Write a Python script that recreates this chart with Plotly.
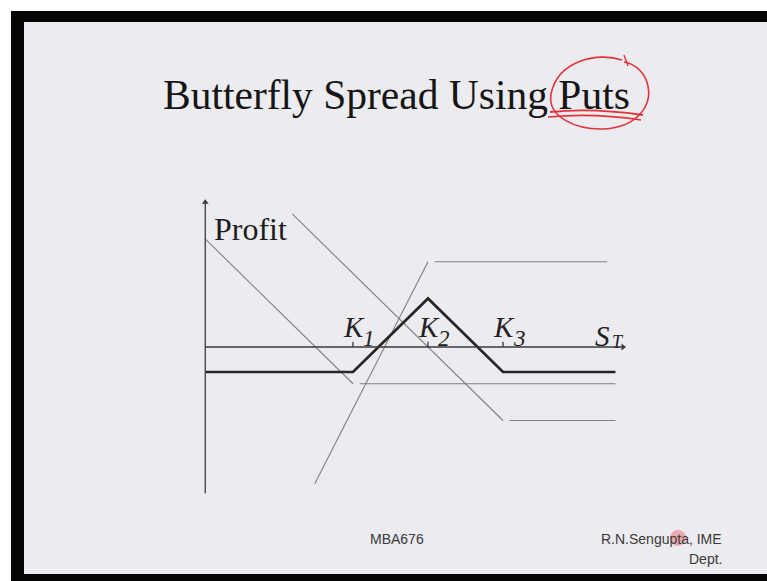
import plotly.graph_objects as go

# ---- payoff data (units of the underlying price) ----
strike_names = ["K", "K", "K"]
strike_subs = ["1", "2", "3"]
strikes = [40.0, 50.0, 60.0]
put_premiums = [5.0, 5.8, 10.0]
positions = [1, -2, 1]          # long K1 put, short two K2 puts, long K3 put
leg_starts = [20.3, 34.9, 31.9]  # where each leg's sloped part begins
leg_ends = [75.0, 73.9, 75.0]    # where each leg's flat part ends
flat_gap = 0.9                   # small break between a leg's slope and its flat part

axis_origin_s = 20.3
axis_end_s = 76.0
profit_axis_top = 19.7
profit_axis_bottom = -19.9
spread_end_s = 75.0

# ---- page geometry (pixels) ----
W, H = 767, 581
PX_PER_S = 7.5
PX_PER_P = 7.35
ORIGIN_X, ORIGIN_Y = 428 - 50 * PX_PER_S, 347   # pixel position of S=0, P=0

x_range = [(0 - ORIGIN_X) / PX_PER_S, (W - ORIGIN_X) / PX_PER_S]
y_range = [-(H - ORIGIN_Y) / PX_PER_P, ORIGIN_Y / PX_PER_P]


def px(x, y):
    """pixel -> paper coordinates"""
    return x / W, 1 - y / H


def put_profit(s, k, prem, pos):
    return pos * (max(k - s, 0.0) - prem)


fig = go.Figure()
thin = dict(color="#808080", width=1.1)
axis_line = dict(color="#3a3a3a", width=1.3)

# individual legs (thin grey)
for k, prem, pos, s0, s1 in zip(strikes, put_premiums, positions, leg_starts, leg_ends):
    fig.add_trace(go.Scatter(
        x=[s0, k], y=[put_profit(s0, k, prem, pos), put_profit(k, k, prem, pos)],
        mode="lines", line=thin, hoverinfo="skip"))
    fig.add_trace(go.Scatter(
        x=[k + flat_gap, s1], y=[put_profit(k + flat_gap, k, prem, pos), put_profit(s1, k, prem, pos)],
        mode="lines", line=thin, hoverinfo="skip"))

# butterfly spread profit (bold)
spread_s = [axis_origin_s] + strikes + [spread_end_s]
spread_p = [sum(put_profit(s, k, pr, po) for k, pr, po in zip(strikes, put_premiums, positions))
            for s in spread_s]
fig.add_trace(go.Scatter(x=spread_s, y=spread_p, mode="lines",
                         line=dict(color="#262626", width=2.7), hoverinfo="skip"))

# axes with arrow heads
fig.add_trace(go.Scatter(x=[axis_origin_s, axis_origin_s], y=[profit_axis_bottom, profit_axis_top],
                         mode="lines", line=axis_line, hoverinfo="skip"))
fig.add_trace(go.Scatter(x=[axis_origin_s, axis_end_s], y=[0, 0],
                         mode="lines", line=axis_line, hoverinfo="skip"))
fig.add_trace(go.Scatter(x=[axis_origin_s], y=[profit_axis_top], mode="markers",
                         marker=dict(symbol="triangle-up", size=6, color="#3a3a3a"), hoverinfo="skip"))
fig.add_trace(go.Scatter(x=[axis_end_s], y=[0], mode="markers",
                         marker=dict(symbol="triangle-right", size=6, color="#3a3a3a"), hoverinfo="skip"))
# strike ticks
for k in strikes:
    fig.add_trace(go.Scatter(x=[k, k], y=[0, 0.7], mode="lines", line=axis_line, hoverinfo="skip"))

annotations = []
serif = "Liberation Serif, Times New Roman, serif"
sans = "Liberation Sans, Arial, sans-serif"
ink = "#222222"


def label(x, y, text, size, italic=True, anchor="left"):
    annotations.append(dict(x=x, y=y, xref="x", yref="y", xanchor=anchor, yanchor="middle",
                            text=f"<i>{text}</i>" if italic else text, showarrow=False,
                            font=dict(family=serif, size=size, color=ink)))


# strike labels: letter plus a separate, slightly lower subscript
for name, sub, k in zip(strike_names, strike_subs, strikes):
    label(k - 12 / PX_PER_S, (347 - 327) / PX_PER_P, name, 29)
    label(k + 7.5 / PX_PER_S, (347 - 338) / PX_PER_P, sub, 23)
label(72.0, (347 - 336) / PX_PER_P, "S", 29)
label(74.2, (347 - 342) / PX_PER_P, "T", 18)
annotations.append(dict(x=axis_origin_s + 0.85, y=profit_axis_top - 0.9, xref="x", yref="y",
                        xanchor="left", yanchor="top", text="Profit", showarrow=False,
                        font=dict(family=serif, size=32, color="#1c1c1c")))

# slide title and footer
tx, ty = px(396, 95)
annotations.append(dict(x=tx, y=ty, xref="paper", yref="paper", xanchor="center", yanchor="middle",
                        text="Butterfly Spread Using Puts", showarrow=False,
                        font=dict(family=serif, size=41.5, color="#151515")))
foot = dict(family=sans, size=14, color="#3a3a3a")
fx, fy = px(397, 539)
annotations.append(dict(x=fx, y=fy, xref="paper", yref="paper", xanchor="center", yanchor="middle",
                        text="MBA676", showarrow=False, font=foot))
fx, fy = px(724, 539)
annotations.append(dict(x=fx, y=fy, xref="paper", yref="paper", xanchor="right", yanchor="middle",
                        text="R.N.Sengupta, IME", showarrow=False, font=foot))
fx, fy = px(724, 559)
annotations.append(dict(x=fx, y=fy, xref="paper", yref="paper", xanchor="right", yanchor="middle",
                        text="Dept.", showarrow=False, font=foot))


def rect(x0, y0, x1, y1, color):
    a, b = px(x0, y0)
    c, d = px(x1, y1)
    return dict(type="rect", xref="paper", yref="paper", x0=a, y0=d, x1=c, y1=b,
                fillcolor=color, line=dict(width=0), layer="below")


def path(points_cmds, color, width):
    parts = []
    for cmd, pts in points_cmds:
        coords = " ".join(f"{px(x, y)[0]:.5f},{px(x, y)[1]:.5f}" for x, y in pts)
        parts.append(f"{cmd} {coords}")
    return dict(type="path", xref="paper", yref="paper", path=" ".join(parts),
                line=dict(color=color, width=width), layer="above")


red = "#e0343a"
shapes = [
    rect(11, 11, W, H, "#050505"),
    rect(24, 22, W, 574, "#ecebf0"),
    # hand-drawn circle around "Puts"
    path([("M", [(622, 60)]),
          ("C", [(598, 52), (558, 60), (551, 94)]),
          ("C", [(547, 118), (578, 130), (604, 129)]),
          ("C", [(637, 127), (652, 106), (648, 86)]),
          ("C", [(645, 72), (635, 64), (624, 62)])], red, 1.6),
    path([("M", [(624, 55)]), ("L", [(628, 66)])], red, 1.4),
    # underline
    path([("M", [(550, 112)]), ("C", [(580, 109), (615, 111), (643, 115)])], red, 1.8),
    path([("M", [(548, 117)]), ("C", [(580, 114), (615, 116), (641, 120)])], red, 1.6),
    # pointer dot
    dict(type="circle", xref="paper", yref="paper",
         x0=px(670, 0)[0], x1=px(686, 0)[0], y0=px(0, 546)[1], y1=px(0, 530)[1],
         fillcolor="rgba(230,90,90,0.45)", line=dict(width=0), layer="above"),
]

fig.update_layout(
    width=W, height=H, margin=dict(l=0, r=0, t=0, b=0),
    paper_bgcolor="#ffffff", plot_bgcolor="rgba(0,0,0,0)",
    showlegend=False,
    xaxis=dict(range=x_range, visible=False, fixedrange=True),
    yaxis=dict(range=y_range, visible=False, fixedrange=True),
    annotations=annotations, shapes=shapes,
)

fig.write_html("out.html", config={"displayModeBar": False})
